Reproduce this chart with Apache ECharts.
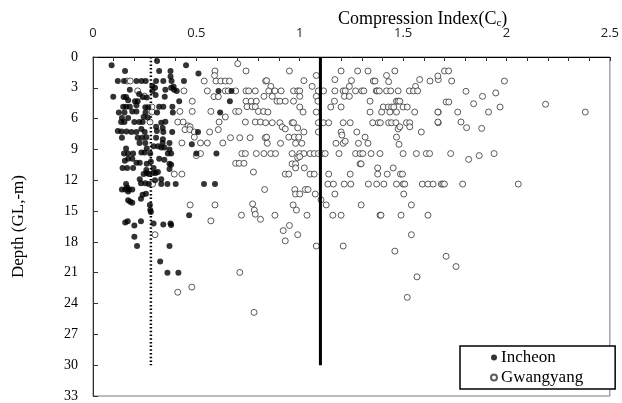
<!DOCTYPE html>
<html>
<head>
<meta charset="utf-8">
<script src="https://cdn.jsdelivr.net/npm/echarts@6/dist/echarts.min.js"></script>
<style>
  html, body { margin: 0; padding: 0; background: #fff; }
  #chart { width: 622px; height: 403px; }
</style>
</head>
<body>
<div id="chart"></div>
<script>
// Compression index (Cc) versus depth below ground level
const xTicks = [0, 0.5, 1, 1.5, 2, 2.5];
const depthTicks = [0, 3, 6, 9, 12, 15, 18, 21, 24, 27, 30, 33];

// Representative Cc used for each site, drawn down to refDepth
const refIncheon = 0.28;
const refGwangyang = 1.1;
const refDepth = 30;

// [Cc, depth (m)]
const incheon = [
  [0.31,0.4],[0.09,0.8],[0.45,0.8],[0.155,1.36],[0.32,1.36],[0.375,1.36],[0.51,1.6],[0.375,1.9],
  [0.12,2.34],[0.15,2.34],[0.21,2.34],[0.235,2.34],[0.255,2.34],[0.305,2.34],[0.34,2.34],[0.38,2.34],[0.44,2.34],
  [0.287,2.8],[0.3,3.0],[0.378,3.0],[0.39,2.9],[0.35,3.2],[0.392,3.2],[0.405,3.3],[0.287,3.3],[0.178,3.2],
  [0.607,3.3],[0.67,3.3],[0.223,3.6],[0.303,3.7],
  [0.098,3.86],[0.148,3.9],[0.16,3.9],[0.17,4.2],[0.203,4.3],[0.216,4.3],[0.24,3.9],[0.26,3.95],[0.347,3.86],[0.417,4.3],[0.662,4.3],
  [0.146,4.84],[0.16,4.84],[0.178,4.84],[0.21,4.7],[0.253,4.9],[0.267,4.9],[0.32,4.84],[0.34,4.84],[0.384,4.84],
  [0.125,5.4],[0.152,5.4],[0.19,5.3],[0.21,5.3],[0.254,5.4],[0.31,5.4],[0.386,5.4],[0.615,5.4],
  [0.14,5.94],[0.17,5.94],[0.245,5.84],[0.265,5.9],
  [0.136,6.33],[0.152,6.33],[0.2,6.33],[0.224,6.33],[0.24,6.33],[0.33,6.4],[0.35,6.3],
  [0.12,7.2],[0.138,7.25],[0.162,7.25],[0.186,7.3],[0.21,7.3],[0.234,7.0],[0.25,7.3],[0.309,7.2],[0.34,7.3],[0.383,7.3],
  [0.305,6.8],[0.337,6.9],[0.508,7.3],
  [0.14,7.86],[0.216,7.86],[0.237,7.86],[0.258,7.8],[0.305,7.86],[0.338,8.0],
  [0.225,8.37],[0.253,8.37],[0.337,8.37],[0.37,8.37],[0.478,8.5],[0.16,8.9],[0.26,8.9],[0.293,8.7],[0.314,8.7],
  [0.33,8.8],[0.345,8.8],[0.37,9.0],
  [0.15,9.4],[0.17,9.4],[0.194,9.4],[0.234,9.3],[0.25,9.3],[0.277,9.4],[0.362,9.4],[0.378,9.4],[0.5,9.4],[0.597,9.4],
  [0.154,10.1],[0.17,9.9],[0.19,9.9],[0.21,10.3],[0.226,10.3],[0.26,10.4],[0.28,10.2],[0.32,9.9],[0.345,10.0],[0.37,10.4],[0.378,10.5],
  [0.143,10.8],[0.165,10.8],[0.194,10.8],[0.258,11.0],[0.293,10.8],[0.314,11.2],[0.37,10.9],[0.245,11.4],[0.26,11.3],
  [0.29,11.3],[0.303,11.3],[0.27,11.4],
  [0.16,12.37],[0.232,12.3],[0.253,12.3],[0.27,12.37],[0.3,12.0],[0.33,11.9],[0.33,12.37],[0.36,12.37],[0.4,12.37],
  [0.537,12.37],[0.59,12.37],[0.226,11.9],
  [0.14,12.9],[0.156,12.9],[0.173,12.9],[0.19,12.9],[0.166,12.7],[0.17,13.1],[0.256,13.3],[0.24,13.4],
  [0.17,13.95],[0.18,14.1],[0.19,14.2],[0.232,13.8],[0.275,14.4],
  [0.277,14.9],[0.28,15.1],[0.465,15.4],
  [0.156,16.1],[0.168,16.0],[0.2,16.4],[0.232,16.0],[0.293,16.2],[0.34,16.3],[0.375,16.2],[0.378,16.35],
  [0.2,17.5],[0.213,18.4],[0.37,18.4],[0.325,19.9],[0.36,21.0],[0.413,21.0]
];

const gwangyang = [
  [0.70,0.65],[0.59,1.36],[0.74,1.36],[0.588,1.8],
  [0.165,2.34],[0.18,2.34],[0.538,2.34],[0.595,2.34],[0.618,2.34],[0.64,2.34],[0.66,2.34],[0.835,2.34],
  [0.216,3.3],[0.44,3.3],[0.553,3.3],[0.64,3.3],[0.654,3.3],[0.69,3.3],[0.74,3.3],[0.753,3.3],[0.785,3.3],
  [0.585,3.86],[0.606,3.86],[0.248,3.8],
  [0.48,4.3],[0.74,4.3],[0.765,4.3],[0.79,4.3],
  [0.285,4.87],[0.745,4.84],[0.77,4.84],[0.785,4.84],
  [0.42,5.3],[0.48,5.3],[0.57,5.3],[0.69,5.3],[0.705,5.3],[0.8,5.3],[0.825,5.3],[0.285,5.35],
  [0.64,5.84],
  [0.276,6.33],[0.41,6.33],[0.436,6.33],[0.61,6.33],[0.737,6.33],[0.785,6.33],[0.81,6.33],
  [0.46,6.7],[0.47,6.8],[0.445,7.07],[0.468,7.07],[0.606,7.07],
  [0.49,7.3],[0.564,7.3],
  [0.49,7.8],[0.665,7.86],[0.71,7.86],[0.76,7.86],[0.833,7.86],
  [0.43,8.37],[0.52,8.37],[0.553,8.37],[0.628,8.37],
  [0.5,9.6],[0.52,9.4],[0.72,9.4],[0.737,9.4],[0.79,9.4],
  [0.69,10.35],[0.707,10.35],[0.73,10.35],
  [0.776,11.2],[0.393,11.4],[0.43,11.4],
  [0.288,12.37],[0.83,12.9],
  [0.47,14.4],[0.59,14.4],[0.772,14.3],[0.78,14.9],[0.785,15.3],[0.718,15.4],[0.81,15.8],[0.57,15.95],
  [0.3,17.3],[0.71,20.97],[0.478,22.4],[0.41,22.9],[0.779,24.86],
  [0.95,1.36],[1.2,1.36],[1.28,1.36],[1.33,1.36],[1.46,1.36],
  [1.08,1.8],[1.42,1.8],
  [0.84,2.3],[1.02,2.3],[1.17,2.2],[1.25,2.3],[1.356,2.34],[1.364,2.34],[1.43,2.4],[1.58,2.2],[1.63,2.34],[1.67,2.2],
  [0.86,2.86],[1.06,2.86],[1.24,2.86],[1.56,2.86],
  [0.85,3.3],[0.88,3.3],[0.91,3.3],[0.97,3.3],[0.99,3.3],[1.0,3.3],[1.09,3.3],[1.115,3.3],[1.17,3.3],[1.21,3.3],
  [1.22,3.3],[1.27,3.3],[1.3,3.3],[1.31,3.3],[1.37,3.3],[1.375,3.3],[1.385,3.3],[1.42,3.3],[1.44,3.3],[1.476,3.3],
  [1.53,3.3],[1.55,3.3],[1.57,3.3],
  [0.827,3.83],[0.867,3.83],[1.0,3.83],[1.08,3.83],[1.216,3.83],[1.24,3.83],
  [0.89,4.3],[0.904,4.3],[0.93,4.3],[0.97,4.3],[1.088,4.3],[1.168,4.3],[1.34,4.3],[1.468,4.3],[1.476,4.3],[1.484,4.3],
  [1.0,4.87],[1.15,4.87],[1.2,4.87],[1.404,4.87],[1.428,4.87],[1.444,4.87],[1.455,4.87],[1.5,4.87],[1.52,4.87],
  [0.846,5.36],[1.016,5.36],[1.08,5.36],[1.34,5.36],[1.396,5.36],[1.436,5.36],[1.468,5.36],[1.556,5.36],[1.67,5.36],
  [0.835,6.4],[0.867,6.4],[0.904,6.4],[0.963,6.4],[0.97,6.4],[1.09,6.4],[1.115,6.4],[1.14,6.4],[1.21,6.4],[1.244,6.4],
  [1.353,6.4],[1.38,6.4],[1.39,6.4],[1.43,6.4],[1.444,6.4],[1.465,6.4],[1.516,6.4],[1.532,6.4],[1.67,6.4],
  [0.915,6.8],[0.93,7.0],[0.99,6.9],[1.02,7.3],[1.09,7.3],[1.2,7.3],[1.276,7.3],[1.476,7.0],[1.484,6.8],[1.532,6.8],[1.588,7.3],
  [0.84,7.8],[0.947,7.8],[0.974,7.8],[0.995,7.8],[1.204,7.6],[1.316,7.8],[1.468,7.8],
  [0.843,8.4],[0.907,8.4],[0.98,8.4],[1.01,8.4],[1.175,8.4],[1.21,8.4],[1.22,8.2],[1.284,8.4],[1.33,8.4],[1.48,8.5],
  [0.827,9.4],[0.86,9.4],[0.883,9.4],[0.963,9.4],[1.0,9.4],[1.02,9.4],[1.05,9.4],[1.07,9.4],[1.09,9.4],[1.107,9.4],
  [1.123,9.4],[1.19,9.4],[1.27,9.4],[1.292,9.4],[1.305,9.4],[1.345,9.4],[1.388,9.4],[1.5,9.4],[1.564,9.4],[1.612,9.4],
  [1.628,9.4],[1.73,9.4],[1.868,9.6],[1.94,9.4],[1.817,9.97],
  [0.99,9.8],[1.0,9.7],
  [0.963,10.4],[0.98,10.4],[1.292,10.4],[1.297,10.4],
  [0.98,10.8],[1.022,10.8],[1.377,10.8],[1.452,10.8],
  [0.93,11.4],[0.947,11.4],[1.05,11.4],[1.07,11.4],[1.14,11.4],[1.244,11.4],[1.377,11.4],[1.423,11.4],[1.487,11.4],[1.497,11.4],
  [1.136,12.37],[1.163,12.37],[1.215,12.37],[1.247,12.37],[1.332,12.37],[1.372,12.37],[1.407,12.37],[1.468,12.37],
  [1.5,12.37],[1.508,12.37],[1.593,12.37],[1.62,12.37],[1.645,12.37],[1.685,12.37],[1.692,12.37],[1.70,12.37],
  [1.788,12.37],[2.057,12.37],
  [0.976,12.9],[0.98,13.34],[1.0,13.34],[1.027,12.9],[1.04,12.9],[1.075,13.34],[1.17,13.34],[1.503,13.34],
  [1.103,13.9],[0.968,14.4],[1.128,14.4],[1.297,14.4],[1.54,14.4],[0.984,14.9],
  [0.88,15.4],[1.035,15.4],[1.16,15.4],[1.2,15.4],[1.388,15.4],[1.393,15.4],[1.49,15.4],[1.62,15.4],
  [0.95,16.4],[0.92,16.9],[0.99,17.3],[1.54,17.3],[0.93,17.9],[1.08,18.4],[1.21,18.4],[1.46,18.9],
  [1.708,19.4],[1.756,20.4],[1.567,21.4],[1.52,23.4],
  [1.70,1.36],[1.72,1.36],[1.668,1.85],[1.735,2.34],[1.99,2.34],[1.804,3.34],[1.948,3.5],[1.884,3.83],
  [1.708,4.38],[1.721,4.38],[1.841,4.55],[2.189,4.6],[1.969,4.87],[1.668,5.36],[1.764,5.36],[1.913,5.36],[2.381,5.36],
  [1.668,6.33],[1.78,6.33],[1.807,6.88],[1.88,6.95]
];

const serif = '"Liberation Serif", "Times New Roman", serif';
const sans = '"Open Sans", "Noto Sans", sans-serif';

const chart = echarts.init(document.getElementById('chart'), null, { renderer: 'canvas' });

chart.setOption({
  backgroundColor: '#fff',
  animation: false,
  title: {
    text: 'Compression Index(C{sub|c})',
    left: 333,
    top: 4,
    textStyle: {
      fontFamily: serif, fontSize: 18, fontWeight: 'normal', color: '#000',
      rich: { sub: { fontFamily: serif, fontSize: 11, color: '#000', verticalAlign: 'bottom', padding: [9, 0, 0, 0] } }
    }
  },
  grid: {
    left: 93, top: 57, right: 10, bottom: 7,
    show: true, borderColor: '#777', borderWidth: 1, backgroundColor: 'transparent'
  },
  legend: {
    orient: 'vertical',
    left: 460, top: 346,
    padding: [3, 32, 3, 30],
    itemGap: 3,
    itemWidth: 6, itemHeight: 6,
    borderColor: '#000', borderWidth: 1.5,
    backgroundColor: '#fff',
    textStyle: { fontFamily: serif, fontSize: 17, color: '#000', padding: [0, 0, 0, -1] },
    data: [
      { name: 'Incheon', icon: 'circle' },
      { name: 'Gwangyang', icon: 'circle' }
    ]
  },
  xAxis: {
    type: 'value',
    position: 'top',
    min: xTicks[0], max: xTicks[xTicks.length - 1], interval: 0.5,
    axisLine: { show: true, lineStyle: { color: '#000', width: 1 } },
    axisTick: { show: true, inside: true, length: 4, lineStyle: { color: '#333' } },
    minorTick: { show: true, splitNumber: 5, length: 4, lineStyle: { color: '#333' } },
    splitLine: { show: false },
    axisLabel: { margin: 17, fontFamily: sans, fontSize: 13, color: '#222', formatter: v => String(v) }
  },
  yAxis: {
    type: 'value',
    inverse: true,
    min: depthTicks[0], max: depthTicks[depthTicks.length - 1], interval: 3,
    name: 'Depth (GL,-m)',
    nameLocation: 'middle',
    nameGap: 66,
    nameRotate: 90,
    nameTextStyle: { fontFamily: serif, fontSize: 17, color: '#000' },
    axisLine: { show: true, lineStyle: { color: '#333', width: 1 } },
    axisTick: { show: true, inside: true, length: 5, lineStyle: { color: '#333' } },
    splitLine: { show: false },
    axisLabel: { margin: 15, fontFamily: serif, fontSize: 14, color: '#000' }
  },
  series: [
    {
      name: 'Gwangyang',
      type: 'scatter',
      data: gwangyang,
      symbol: 'circle',
      symbolSize: 6,
      itemStyle: { color: '#fff', borderColor: '#333', borderWidth: 1 },
      z: 3
    },
    {
      name: 'Incheon',
      type: 'scatter',
      data: incheon,
      symbol: 'circle',
      symbolSize: 6,
      itemStyle: { color: '#000' },
      z: 4
    },
    {
      name: 'refIncheon',
      type: 'line',
      data: [[refIncheon, 0], [refIncheon, refDepth]],
      symbol: 'none',
      lineStyle: { color: '#000', width: 2.5, type: [1.5, 2.2], cap: 'butt' },
      z: 2
    },
    {
      name: 'refGwangyang',
      type: 'line',
      data: [[refGwangyang, 0], [refGwangyang, refDepth]],
      symbol: 'none',
      lineStyle: { color: '#000', width: 3 },
      z: 5
    }
  ]
});
</script>
</body>
</html>
